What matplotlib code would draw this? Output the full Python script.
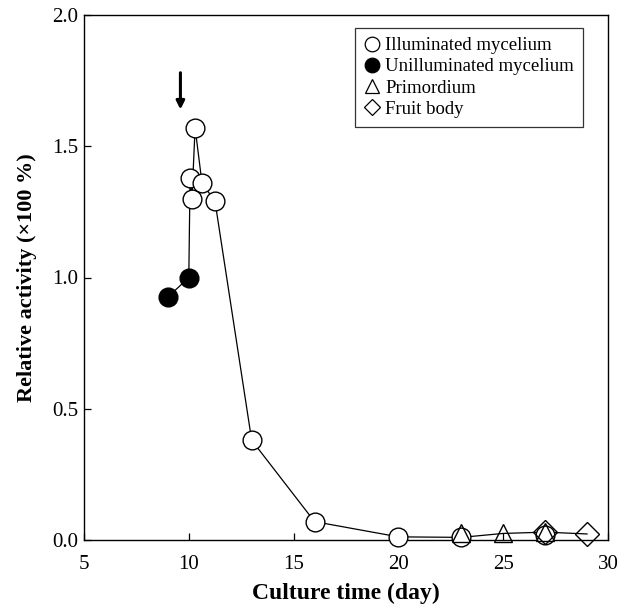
import numpy as np
import matplotlib
matplotlib.use('Agg')
import matplotlib.pyplot as plt
from matplotlib.lines import Line2D

plt.rcParams['font.family'] = ['Liberation Serif', 'DejaVu Serif']

# culture time (day) and relative activity (x100 %)
illum_t = [10.06, 10.15, 10.3, 10.63, 11.25, 13.0, 16.0, 20.0, 23.0, 27.0]
illum_v = [1.38, 1.30, 1.57, 1.36, 1.29, 0.38, 0.07, 0.012, 0.01, 0.02]
dark_t = [9.0, 10.0]
dark_v = [0.925, 1.0]
prim_t = [23.0, 25.0, 27.0]
prim_v = [0.025, 0.025, 0.03]
fruit_t = [27.0, 29.0]
fruit_v = [0.03, 0.023]

xticks = [5, 10, 15, 20, 25, 30]
yticks = [0.0, 0.5, 1.0, 1.5, 2.0]
labels = ['Illuminated mycelium', 'Unilluminated mycelium', 'Primordium', 'Fruit body']

fig = plt.figure(figsize=(6.19, 6.11), dpi=100)
ax = fig.add_axes([84 / 619, 71 / 611, 524 / 619, 525 / 611])

# connecting line, in time order
line_t = np.array(dark_t + illum_t[:9] + prim_t[1:2] + fruit_t)
line_v = np.array(dark_v + illum_v[:9] + prim_v[1:2] + fruit_v)
order = np.argsort(line_t, kind='stable')
ax.plot(line_t[order], line_v[order], '-', color='black', lw=0.9, zorder=2)

ms = 13.5
ax.plot(illum_t, illum_v, 'o', ms=ms, mfc='white', mec='black', mew=1.0, zorder=3, clip_on=False)
ax.plot(dark_t, dark_v, 'o', ms=ms, mfc='black', mec='black', mew=1.0, zorder=3, clip_on=False)
ax.plot(prim_t, prim_v, '^', ms=12.5, mfc='none', mec='black', mew=1.0, zorder=4, clip_on=False)
ax.plot(fruit_t, fruit_v, 'D', ms=12, mfc='none', mec='black', mew=1.0, zorder=4, clip_on=False)

ax.annotate('', xy=(9.6, 1.64), xytext=(9.6, 1.78),
            arrowprops=dict(arrowstyle='-|>', color='black', lw=2.2,
                            mutation_scale=12, shrinkA=0, shrinkB=0))

ax.set_xlim(5, 30)
ax.set_ylim(0, 2.0)
ax.set_xticks(xticks)
ax.set_yticks(yticks)
ax.set_yticklabels([f'{v:.1f}' for v in yticks])
ax.tick_params(direction='in', length=5, width=0.9, labelsize=15, pad=4)
ax.tick_params(axis='x', pad=11)
for s in ax.spines.values():
    s.set_linewidth(1.0)

ax.set_xlabel('Culture time (day)', fontsize=17, fontweight='bold', labelpad=6)
ax.set_ylabel('Relative activity (\u00d7100 %)', fontsize=16, fontweight='bold', labelpad=11)

handles = [
    Line2D([], [], ls='none', marker='o', ms=10.5, mfc='white', mec='black', mew=0.9),
    Line2D([], [], ls='none', marker='o', ms=10.5, mfc='black', mec='black', mew=0.9),
    Line2D([], [], ls='none', marker='^', ms=10, mfc='none', mec='black', mew=0.9),
    Line2D([], [], ls='none', marker='D', ms=8.5, mfc='none', mec='black', mew=0.9),
]
leg = ax.legend(handles, labels, loc='upper right', bbox_to_anchor=(0.953, 0.976),
                fontsize=13.5, frameon=True, fancybox=False, handlelength=0.8,
                handletextpad=0.3, labelspacing=0.22, borderpad=0.5, borderaxespad=0)
leg.get_frame().set_edgecolor('black')
leg.get_frame().set_linewidth(0.9)

fig.savefig('out.png', dpi=100)
